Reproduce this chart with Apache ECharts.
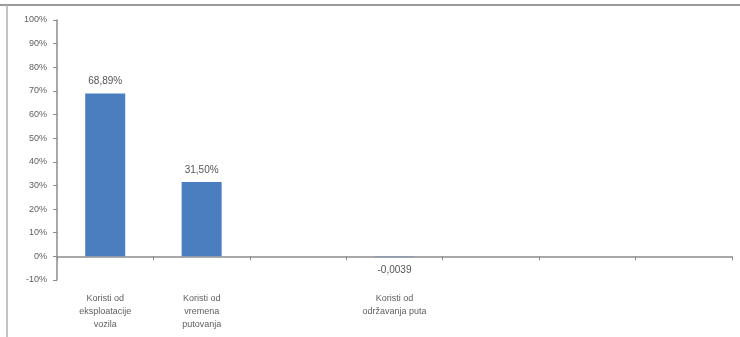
<!DOCTYPE html>
<html><head><meta charset="utf-8">
<script src="https://cdn.jsdelivr.net/npm/echarts@6/dist/echarts.min.js"></script>
<style>html,body{margin:0;padding:0;background:#fff}#c{width:740px;height:337px}</style>
</head><body><div id="c"></div>
<script>
var categories = ['Koristi od\neksploatacije\nvozila', 'Koristi od\nvremena\nputovanja', '', 'Koristi od\nodržavanja puta', '', '', ''];
var values = [68.89, 31.50, null, -0.39, null, null, null];
var valueLabels = ['68,89%', '31,50%', '', '-0,0039', '', '', ''];
var yTicks = [-10, 0, 10, 20, 30, 40, 50, 60, 70, 80, 90, 100];

var chart = echarts.init(document.getElementById('c'));
var font = 'Liberation Sans';
var seriesData = values.map(function (v) {
  if (v !== null && v < 0) return {value: v, label: {position: 'bottom', distance: 8}, itemStyle: {color: '#8a9bb5'}};
  return v;
});
chart.setOption({
  animation: false,
  textStyle: {fontFamily: font},
  grid: {left: 57, right: 8, top: 20, bottom: 57},
  graphic: [
    {type: 'line', shape: {x1: 0, y1: 5, x2: 740, y2: 5}, style: {stroke: '#9a9a9a', lineWidth: 2}},
    {type: 'line', shape: {x1: 7, y1: 5, x2: 7, y2: 337}, style: {stroke: '#b0b0b0', lineWidth: 1.5}}
  ],
  xAxis: [{
    type: 'category', data: categories, position: 'bottom',
    axisLine: {onZero: true, lineStyle: {color: '#8c8c8c', width: 1.5}},
    axisTick: {show: true, interval: 0, length: 4, lineStyle: {color: '#8c8c8c'}},
    axisLabel: {show: false}
  }, {
    type: 'category', data: categories, position: 'bottom',
    axisLine: {show: false, onZero: false}, axisTick: {show: false},
    axisLabel: {show: true, interval: 0, margin: 12, fontSize: 9, lineHeight: 13, color: '#606060', fontFamily: font}
  }],
  yAxis: {
    type: 'value', min: yTicks[0], max: yTicks[yTicks.length - 1], interval: 10,
    axisLine: {show: true, lineStyle: {color: '#8c8c8c', width: 1.5}},
    axisTick: {show: true, length: 4, lineStyle: {color: '#8c8c8c'}},
    splitLine: {show: false},
    axisLabel: {margin: 10, fontSize: 9, color: '#606060', fontFamily: font, formatter: function (v) { return v + '%'; }}
  },
  series: [{
    type: 'bar', xAxisIndex: 0, data: seriesData, barWidth: 40, barMinHeight: 0,
    itemStyle: {color: '#4a7ebf'},
    label: {
      show: true, fontSize: 10, color: '#555', fontFamily: font, distance: 7,
      position: 'top',
      formatter: function (p) { return valueLabels[p.dataIndex]; }
    }
  }]
});
</script></body></html>
